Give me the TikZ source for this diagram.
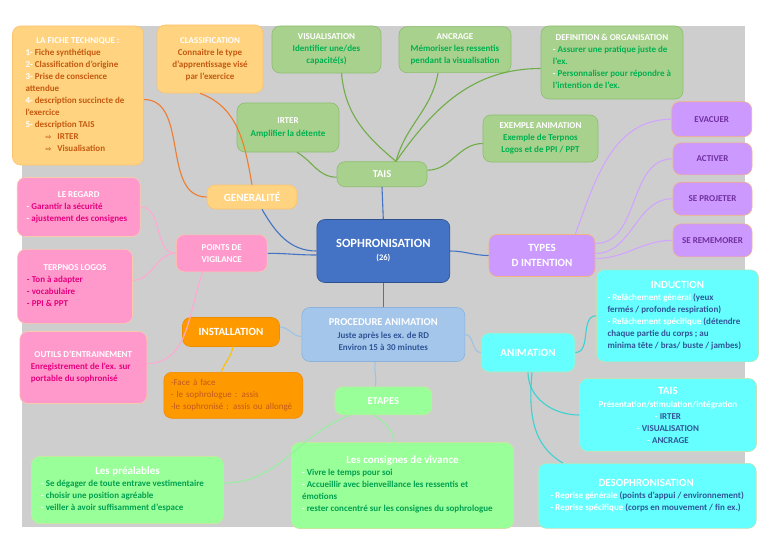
\documentclass[tikz,border=0pt]{standalone}
\usepackage{fontspec}
\setmainfont{Carlito}
\newfontfamily\dejavu{DejaVu Sans}
\definecolor{bg}{RGB}{206,206,206}
\definecolor{orF}{RGB}{255,211,128}
\definecolor{orB}{RGB}{250,196,110}
\definecolor{orT}{RGB}{197,90,17}
\definecolor{grF}{RGB}{169,209,142}
\definecolor{grB}{RGB}{140,190,110}
\definecolor{grT}{RGB}{0,176,80}
\definecolor{blF}{RGB}{68,114,196}
\definecolor{blB}{RGB}{47,82,143}
\definecolor{lbF}{RGB}{164,198,234}
\definecolor{lbB}{RGB}{140,178,220}
\definecolor{lbT}{RGB}{47,85,151}
\definecolor{puF}{RGB}{204,153,255}
\definecolor{puB}{RGB}{244,177,131}
\definecolor{puT}{RGB}{112,48,160}
\definecolor{piF}{RGB}{255,153,204}
\definecolor{piB}{RGB}{248,203,173}
\definecolor{piT}{RGB}{230,0,126}
\definecolor{cyF}{RGB}{102,255,255}
\definecolor{cyB}{RGB}{197,224,180}
\definecolor{cyT}{RGB}{47,85,151}
\definecolor{inF}{RGB}{255,153,0}
\definecolor{inB}{RGB}{240,140,0}
\definecolor{inT}{RGB}{192,90,30}
\definecolor{lgF}{RGB}{153,255,153}
\definecolor{lgB}{RGB}{200,230,160}
\definecolor{lgT}{RGB}{0,160,80}
\definecolor{cOr}{RGB}{237,125,49}
\definecolor{cGr}{RGB}{112,173,71}
\definecolor{cBl}{RGB}{68,114,196}
\definecolor{cLb}{RGB}{157,195,230}
\definecolor{cPi}{RGB}{255,170,210}
\definecolor{cPu}{RGB}{210,165,255}
\definecolor{cCy}{RGB}{60,210,210}
\definecolor{cYe}{RGB}{255,192,0}
\definecolor{cLg}{RGB}{150,240,160}
\newcommand\fs{\fontsize{9}{12}\selectfont}
\newcommand\fbig{\fontsize{11}{13}\selectfont}
\newcommand\wt[1]{\textcolor{white}{#1}}
\newcommand\lbx[3]{\begin{tabular}{@{}l@{}}\makebox[#1pt]{#2}\\#3\end{tabular}}
\newcommand\arr{{\dejavu\fontsize{7}{12}\selectfont ⇨}}
\tikzset{
  box/.style={rectangle, rounded corners=8pt, line width=0.6pt, inner sep=0pt, align=center, font=\fs\bfseries},
  ora/.style={box, fill=orF, draw=orB, text=orT},
  gre/.style={box, fill=grF, draw=grB, text=grT},
  blu/.style={box, fill=blF, draw=blB, text=white},
  lbl/.style={box, fill=lbF, draw=lbB, text=lbT},
  pur/.style={box, fill=puF, draw=puB, text=puT},
  pin/.style={box, fill=piF, draw=piB, text=piT},
  cya/.style={box, fill=cyF, draw=cyB, text=cyT},
  ins/.style={box, fill=inF, draw=inB, text=inT},
  lgr/.style={box, fill=lgF, draw=lgB, text=lgT},
  link/.style={line width=1.1pt},
}
\begin{document}
\begin{tikzpicture}[x=1pt,y=-1pt]
\useasboundingbox (0,0) rectangle (768,543);
\fill[white] (0,0) rectangle (768,543);
\fill[bg] (22,26) rectangle (745,527);

% orange (generalites)
\node[ora, minimum width=131, minimum height=139] (fiche) at (78,95.5)
 {\lbx{105}{\wt{LA FICHE TECHNIQUE :}}{\wt{1-} Fiche synthétique\\\wt{2-} Classification d’origine\\\wt{3-} Prise de conscience\\attendue\\\wt{4-} description succincte de\\l’exercice\\\wt{5-} description TAIS\\\hspace*{20pt}\arr\hspace{6pt}IRTER\\\hspace*{20pt}\arr\hspace{6pt}Visualisation}};
\node[ora, minimum width=106, minimum height=68] (class) at (210,59)
 {\wt{CLASSIFICATION}\\Connaitre le type\\d’apprentissage visé\\par l’exercice};
\node[ora, text=white, font=\fbig\bfseries, minimum width=90, minimum height=24] (gen) at (252,197) {GENERALITÉ};

% green (TAIS)
\node[gre, minimum width=109, minimum height=47] (visu) at (326.5,49.5)
 {\wt{VISUALISATION}\\Identifier une/des\\capacité(s)};
\node[gre, minimum width=112, minimum height=46] (ancr) at (455,49.7)
 {\wt{ANCRAGE}\\Mémoriser les ressentis\\pendant la visualisation};
\node[gre, minimum width=142, minimum height=73] (def) at (612,62.5)
 {\lbx{118}{\wt{DEFINITION \& ORGANISATION}}{\wt{-} Assurer une pratique juste de\\l’ex.\\\wt{-} Personnaliser pour répondre à\\l’intention de l’ex.}};
\node[gre, minimum width=102, minimum height=49] (irter) at (288,127.5)
 {\wt{IRTER}\\[1pt]Amplifier la détente};
\node[gre, minimum width=115, minimum height=47] (ex) at (540.5,138.5)
 {\wt{EXEMPLE ANIMATION}\\Exemple de Terpnos\\Logos et de PPI / PPT};
\node[gre, text=white, font=\fontsize{10.5}{12}\selectfont\bfseries, minimum width=90, minimum height=25] (tais) at (382,174.2) {TAIS};

% pink (vigilance)
\node[pin, minimum width=123, minimum height=59] (regard) at (78.7,207)
 {\lbx{104}{\wt{LE REGARD}}{\wt{-} Garantir la sécurité\\\wt{-} ajustement des consignes}};
\node[pin, text=white, minimum width=91, minimum height=37] (pv) at (221.7,253.3)
 {POINTS DE\\VIGILANCE};
\node[pin, minimum width=115, minimum height=74] (terpnos) at (75,286.3)
 {\lbx{96}{\wt{TERPNOS LOGOS}}{- Ton à adapter\\- vocabulaire\\- PPI \& PPT}};
\node[pin, minimum width=127, minimum height=72] (outils) at (83.3,367.5)
 {\lbx{105}{\wt{OUTILS D’ENTRAINEMENT}}{Enregistrement de l’ex. sur\\portable du sophronisé}};

% centre
\node[blu, minimum width=133, minimum height=63] (soph) at (383.3,251)
 {{\fontsize{12.5}{15}\selectfont SOPHRONISATION}\\[1pt]{\fontsize{8.5}{12}\selectfont (26)}};
\node[lbl, minimum width=163, minimum height=54] (proc) at (383.3,334.5)
 {\wt{\fontsize{10.5}{12}\selectfont PROCEDURE ANIMATION}\\[1pt]Juste après les ex. de RD\\Environ 15 à 30 minutes};

% purple (intention)
\node[pur, text=white, font=\fontsize{11}{14}\selectfont\bfseries, minimum width=106, minimum height=42] (types) at (542,255.5)
 {TYPES\\[1pt]D INTENTION};
\node[pur, minimum width=80, minimum height=35] (evac) at (711.7,119.2) {EVACUER};
\node[pur, minimum width=79, minimum height=32] (activ) at (712.5,158.8) {ACTIVER};
\node[pur, minimum width=79, minimum height=33] (proj) at (712.5,198.7) {SE PROJETER};
\node[pur, minimum width=79, minimum height=33] (rem) at (712.5,240.3) {SE REMEMORER};

% cyan (animation)
\node[cya, minimum width=162, minimum height=92] (induc) at (677.5,315.8)
 {\lbx{140}{\wt{\fontsize{11}{12}\selectfont INDUCTION}}{\wt{- Relâchement général} (yeux\\fermés / profonde respiration)\\\wt{- Relâchement spécifique} (détendre\\chaque partie du corps ; au\\minima tête / bras/ buste / jambes)}};
\node[cya, text=white, font=\fbig\bfseries, minimum width=94, minimum height=39] (anim) at (528,352.5) {ANIMATION};
\node[cya, minimum width=177, minimum height=73] (tais2) at (668,415)
 {\wt{\fontsize{11}{12}\selectfont TAIS}\\[1pt]\wt{Présentation/stimulation/intégration}\\\wt{-} IRTER\\\wt{-} VISUALISATION\\\wt{-} ANCRAGE};
\node[cya, minimum width=218, minimum height=65] (desoph) at (647.2,495.8)
 {\lbx{191}{\wt{\fontsize{11}{12}\selectfont DESOPHRONISATION}}{\wt{- Reprise générale} (points d’appui / environnement)\\\wt{- Reprise spécifique} (corps en mouvement / fin ex.)}};

% installation
\node[ins, text=white, font=\fbig\bfseries, minimum width=97, minimum height=29] (inst) at (231,332) {INSTALLATION};
\node[ins, font=\fs, align=left, text width=125, minimum width=139, minimum height=46] (det) at (233.3,395.3)
 {-Face à face\\- le sophrologue : assis\\-le sophronisé : assis ou allongé};

% etapes
\node[lgr, text=white, font=\fontsize{10.5}{12}\selectfont\bfseries, minimum width=97, minimum height=28] (etap) at (383.3,400.8) {ETAPES};
\node[lgr, minimum width=192, minimum height=67] (preal) at (127.5,490)
 {\lbx{173}{\wt{\fontsize{11}{12}\selectfont Les préalables}}{\wt{-} Se dégager de toute entrave vestimentaire\\\wt{-} choisir une position agréable\\\wt{-} veiller à avoir suffisamment d’espace}};
\node[lgr, minimum width=222, minimum height=86] (consig) at (402.5,485.5)
 {\lbx{201}{\wt{\fontsize{11}{12}\selectfont Les consignes de vivance}}{\wt{-} Vivre le temps pour soi\\\wt{-} Accueillir avec bienveillance les ressentis et\\émotions\\\wt{-} rester concentré sur les consignes du sophrologue}};

% connectors
\begin{scope}[link]
\draw[cOr] ([yshift=-4pt]fiche.east) to[out=0,in=180] (gen.west);
\draw[cOr] ([xshift=-10pt]class.south) to[out=-20,in=100] (gen.north);
\draw[cBl] ([xshift=10pt]gen.south) to[out=-60,in=180] (soph.west);
\draw[cBl] (pv.east) to[out=0,in=180] ([yshift=-4pt]soph.west);
\draw[cBl] (soph.north) -- (tais.south);
\draw[cBl] (soph.east) to[out=0,in=180] (types.west);
\draw[cBl] (soph.south) -- (proc.north);
\draw[cGr] ([xshift=14pt]tais.north) to[out=140,in=-85] ([xshift=15pt]visu.south);
\draw[cGr] ([xshift=14pt]tais.north) to[out=75,in=-100] ([xshift=-17pt]ancr.south);
\draw[cGr] ([xshift=14pt]tais.north) to[out=55,in=180] ([yshift=-6pt]def.west);
\draw[cGr] ([yshift=-3pt]tais.west) to[out=180,in=-30] ([xshift=9pt]irter.south);
\draw[cGr] ([yshift=4pt]tais.east) to[out=0,in=180] ([yshift=-5pt]ex.west);
\draw[cPu] ([xshift=-20pt]types.north east) to[out=70,in=180] (evac.west);
\draw[cPu] ([yshift=12pt]types.east) to[out=0,in=180] (activ.west);
\draw[cPu] ([yshift=2pt]types.east) to[out=0,in=180] (proj.west);
\draw[cPu] ([yshift=-3pt]types.east) to[out=0,in=180] (rem.west);
\draw[cPi] (pv.west) to[out=180,in=0] (regard.east);
\draw[cPi] (pv.west) to[out=180,in=0] ([yshift=6pt]terpnos.east);
\draw[cPi] ([xshift=-19pt]pv.south) to[out=-110,in=0] ([yshift=4pt]outils.east);
\draw[cLb] ([yshift=-2pt]proc.west) to[out=180,in=0] ([yshift=5pt]inst.east);
\draw[cLb] ([xshift=-8pt]proc.south) to[out=-100,in=80] ([xshift=-8pt]etap.north);
\draw[cLb] (proc.east) to[out=0,in=180] (anim.west);
\draw[cCy] (anim.east) to[out=0,in=180] (induc.west);
\draw[cCy] (anim.south) to[out=-90,in=180] (tais2.west);
\draw[cCy] ([xshift=4pt]anim.south) to[out=-95,in=150] ([xshift=25pt]desoph.north west);
\draw[cYe] ([xshift=2pt]inst.south) to[out=-100,in=70] ([xshift=-12pt]det.north);
\draw[cLg] ([xshift=-33pt]etap.south) to[out=200,in=0] ([yshift=7pt]preal.east);
\draw[cLg] ([xshift=-10pt]etap.south) to[out=-30,in=100] ([xshift=-8pt]consig.north);
\end{scope}
\end{tikzpicture}
\end{document}
